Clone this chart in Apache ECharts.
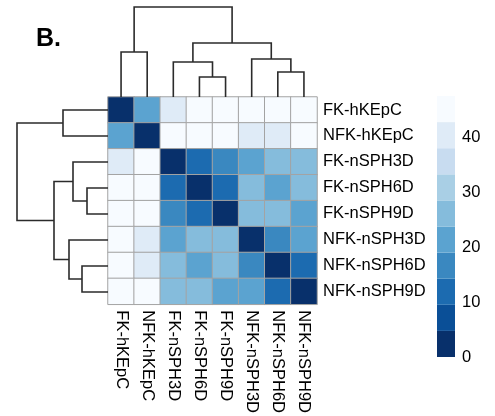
<!DOCTYPE html>
<html><head><meta charset="utf-8">
<script src="https://cdn.jsdelivr.net/npm/echarts@6/dist/echarts.min.js"></script>
<style>html,body{margin:0;padding:0;background:#fff}#c{width:495px;height:416px}</style>
</head><body><div id="c"></div>
<script>
// Sample labels (rows and columns share the same order)
const labels = ['FK-hKEpC','NFK-hKEpC','FK-nSPH3D','FK-nSPH6D','FK-nSPH9D','NFK-nSPH3D','NFK-nSPH6D','NFK-nSPH9D'];
// Distance values per row
const rowFKhKEpC   = [0, 21, 40, 45, 45, 45, 45, 45];
const rowNFKhKEpC  = [21, 0, 45, 45, 45, 40, 40, 45];
const rowFKnSPH3D  = [40, 45, 0, 12, 16.5, 21, 26, 26];
const rowFKnSPH6D  = [45, 45, 12, 0, 12, 26, 21, 26];
const rowFKnSPH9D  = [45, 45, 16.5, 12, 0, 26, 26, 21];
const rowNFKnSPH3D = [45, 40, 21, 26, 26, 0, 16.5, 21];
const rowNFKnSPH6D = [45, 40, 26, 21, 26, 16.5, 0, 12];
const rowNFKnSPH9D = [45, 45, 26, 26, 21, 21, 12, 0];
// Dendrogram merges: [childA, childB, height]; ids >= 8 are earlier merges
const colMerges = [[0,1,45],[3,4,20],[2,9,35],[6,7,25],[5,11,38],[10,12,54],[8,13,90]];
const rowMerges = [[0,1,45],[3,4,21],[2,9,35],[6,7,26],[5,11,39],[10,12,54],[8,13,91]];
// Colour scale
const colorBreaks = [0, 4.75, 9.5, 14.25, 19, 23.75, 28.5, 33.25, 38, 42.75, 47.5];
const colorSteps = ['#08306b','#0a4f97','#1c6bb0','#3a88c0','#5ba3d0','#85bcdc','#a9cfe5','#c8dcf0','#dfebf7','#f7fbff'];
const legendTicks = [0, 10, 20, 30, 40];

const matrix = [rowFKhKEpC,rowNFKhKEpC,rowFKnSPH3D,rowFKnSPH6D,rowFKnSPH9D,rowNFKnSPH3D,rowNFKnSPH6D,rowNFKnSPH9D];
const n = labels.length;
const heatData = [];
matrix.forEach((r, y) => r.forEach((v, x) => heatData.push([x, y, v])));

function dendro(merges) {
  const pos = [], hts = [];
  for (let i = 0; i < n; i++) { pos[i] = i + 0.5; hts[i] = 0; }
  return merges.map((m, k) => {
    const [a, b, h] = m; const id = n + k;
    pos[id] = (pos[a] + pos[b]) / 2; hts[id] = h;
    return [pos[a], pos[b], hts[a], hts[b], h];
  });
}
const LINE = {stroke:'#2b2b2b', lineWidth:1.6, fill:null};
const FONT = 'Liberation Sans';

const chart = echarts.init(document.getElementById('c'), null, {renderer:'canvas'});
const legendSeries = colorSteps.map((c, i) => ({
  type:'bar', xAxisIndex:3, yAxisIndex:3, stack:'lg', barWidth:'100%',
  data:[colorBreaks[i+1]-colorBreaks[i]], itemStyle:{color:c}, silent:true
}));
chart.setOption({
  animation:false,
  backgroundColor:'#fff',
  title:{text:'B.', left:36, top:27, padding:0, textStyle:{fontFamily:FONT, fontSize:25, fontWeight:'bold', color:'#000'}},
  grid:[
    {left:108, top:97, width:209, height:208},
    {left:108, top:7, width:209, height:90},
    {left:17, top:97, width:91, height:208},
    {left:437, top:96, width:18, height:261}
  ],
  xAxis:[
    {gridIndex:0, type:'category', data:labels, position:'bottom',
     axisLine:{show:false}, axisTick:{show:false}, splitLine:{show:false},
     axisLabel:{rotate:-90, interval:0, margin:6, fontFamily:FONT, fontSize:16.5, color:'#000'}},
    {gridIndex:1, type:'value', min:0, max:n, show:false},
    {gridIndex:2, type:'value', min:0, max:91, inverse:true, show:false},
    {gridIndex:3, type:'category', data:['c'], show:false}
  ],
  yAxis:[
    {gridIndex:0, type:'category', data:labels, inverse:true, position:'right',
     axisLine:{show:false}, axisTick:{show:false}, splitLine:{show:false},
     axisLabel:{interval:0, margin:6, fontFamily:FONT, fontSize:16.5, color:'#000'}},
    {gridIndex:1, type:'value', min:0, max:90, show:false},
    {gridIndex:2, type:'value', min:0, max:n, inverse:true, show:false},
    {gridIndex:3, type:'value', min:0, max:47.5, position:'right',
     axisLine:{show:false}, axisTick:{show:false}, splitLine:{show:false},
     axisLabel:{customValues:legendTicks, margin:7, fontFamily:FONT, fontSize:16.5, color:'#000'}}
  ],
  visualMap:{
    type:'piecewise', show:false, seriesIndex:0, dimension:2,
    pieces:colorSteps.map((c, i) => ({gte:colorBreaks[i], lt:colorBreaks[i+1] + (i === colorSteps.length-1 ? 1 : 0), color:c}))
  },
  series:[
    {type:'heatmap', xAxisIndex:0, yAxisIndex:0, data:heatData,
     itemStyle:{borderColor:'#a3a3a3', borderWidth:1}, emphasis:{disabled:true}, silent:true},
    {type:'custom', xAxisIndex:1, yAxisIndex:1, data:dendro(colMerges), silent:true,
     encode:{x:[0,1], y:[2,3,4]},
     renderItem:(p, api) => {
       const xa=api.value(0), xb=api.value(1), ha=api.value(2), hb=api.value(3), h=api.value(4);
       return {type:'polyline', shape:{points:[api.coord([xa,ha]),api.coord([xa,h]),api.coord([xb,h]),api.coord([xb,hb])]}, style:LINE};
     }},
    {type:'custom', xAxisIndex:2, yAxisIndex:2, data:dendro(rowMerges), silent:true,
     encode:{x:[2,3,4], y:[0,1]},
     renderItem:(p, api) => {
       const ya=api.value(0), yb=api.value(1), ha=api.value(2), hb=api.value(3), h=api.value(4);
       return {type:'polyline', shape:{points:[api.coord([ha,ya]),api.coord([h,ya]),api.coord([h,yb]),api.coord([hb,yb])]}, style:LINE};
     }},
    ...legendSeries
  ]
});
</script></body></html>
